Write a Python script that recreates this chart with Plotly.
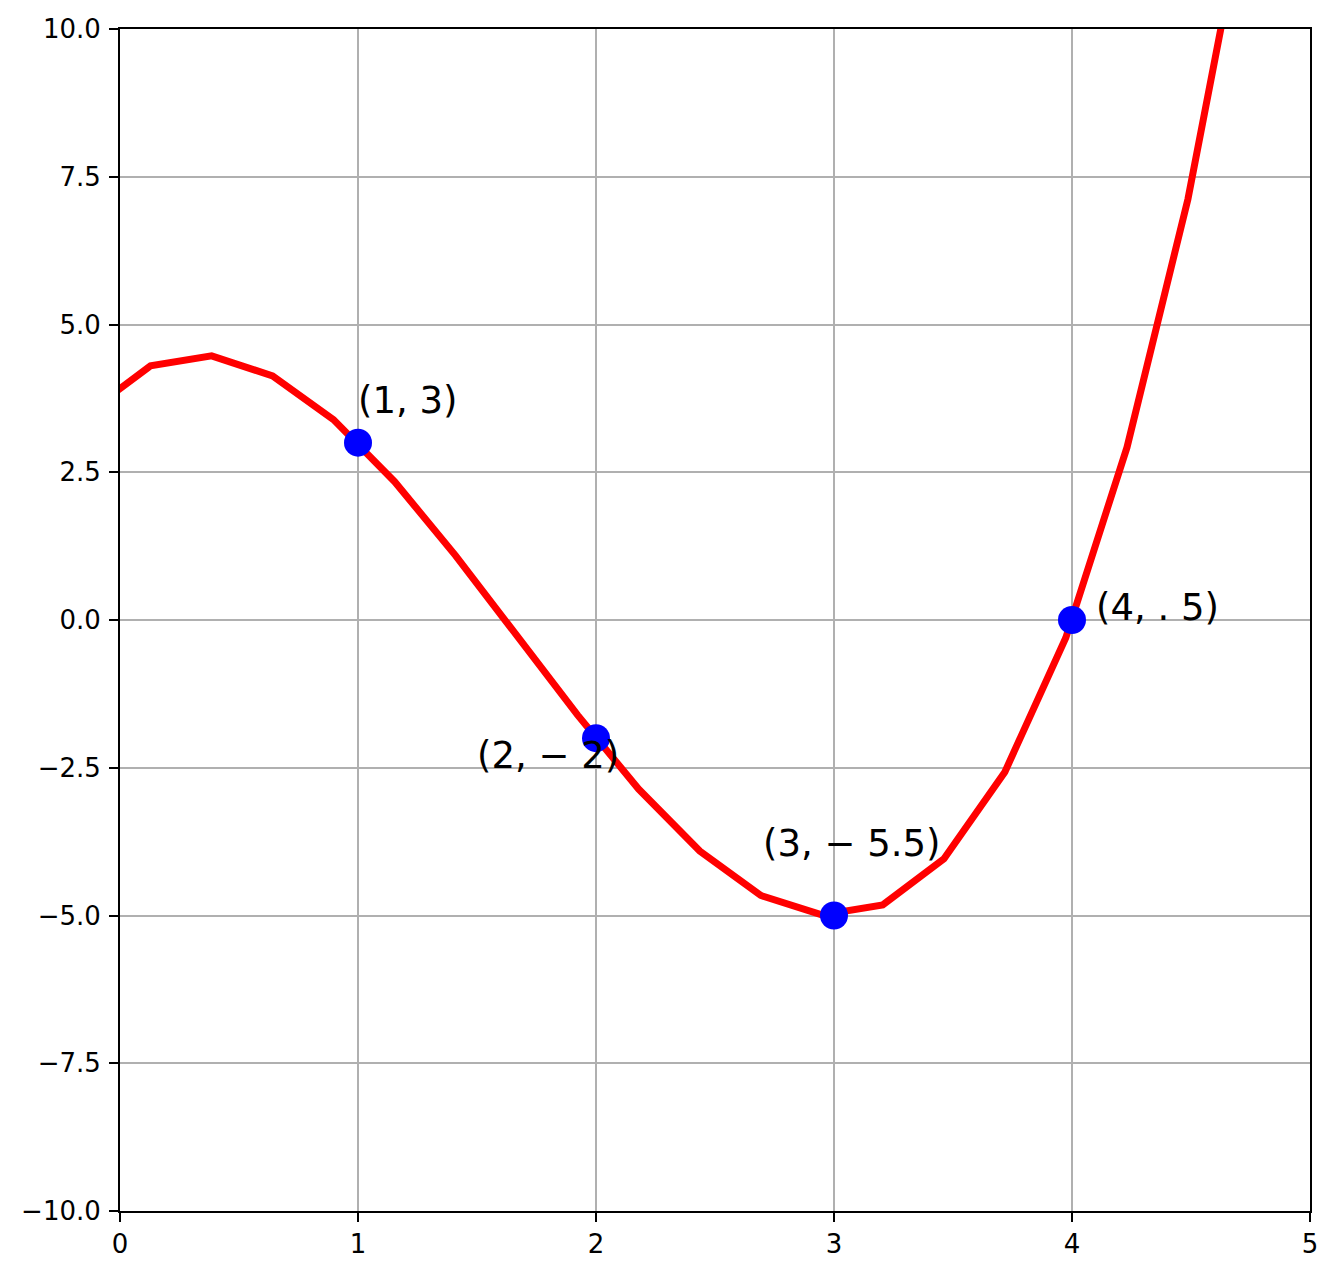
import plotly.graph_objects as go

# curve vertices
curve_x = [-0.128, 0.128, 0.385, 0.641, 0.897, 1.154, 1.410, 1.667, 1.923, 2.179,
           2.436, 2.692, 2.949, 3.205, 3.462, 3.718, 3.974, 4.231, 4.487, 4.744]
curve_y = [3.53, 4.30, 4.47, 4.13, 3.39, 2.34, 1.09, -0.26, -1.61, -2.86,
           -3.91, -4.66, -4.99, -4.82, -4.04, -2.57, -0.30, 2.92, 7.12, 12.48]

# highlighted points
pts_x = [1, 2, 3, 4]
pts_y = [3, -2, -5, 0]

# labels
label_text = ["(1, 3)", "(2, − 2)", "(3, − 5.5)", "(4, . 5)"]
label_x = [1.0, 1.5, 2.7, 4.1]
label_y = [3.5, -2.5, -4.0, 0.0]

# ticks
x_ticks = [0, 1, 2, 3, 4, 5]
x_ticktext = ["0", "1", "2", "3", "4", "5"]
y_ticks = [-10, -7.5, -5, -2.5, 0, 2.5, 5, 7.5, 10]
y_ticktext = ["−10.0", "−7.5", "−5.0", "−2.5", "0.0", "2.5", "5.0", "7.5", "10.0"]

FONT = "DejaVu Sans"

fig = go.Figure()
fig.add_trace(go.Scatter(x=curve_x, y=curve_y, mode="lines",
                         line=dict(color="red", width=7), showlegend=False,
                         hoverinfo="skip"))
fig.add_trace(go.Scatter(x=pts_x, y=pts_y, mode="markers",
                         marker=dict(color="blue", size=28, line=dict(width=0)),
                         showlegend=False, cliponaxis=False))

for t, x, y in zip(label_text, label_x, label_y):
    fig.add_annotation(x=x, y=y, text=t, showarrow=False, xanchor="left",
                       yanchor="bottom", yshift=-11, xshift=-2,
                       font=dict(family=FONT, size=37, color="black"))

axis_common = dict(showline=True, linecolor="black", linewidth=2, mirror=True,
                   ticks="outside", ticklen=9, tickwidth=2, tickcolor="black",
                   showgrid=True, gridcolor="#b0b0b0", gridwidth=1.6,
                   zeroline=False, automargin=False,
                   tickfont=dict(family=FONT, size=26, color="black"))

fig.update_xaxes(range=[0, 5], tickvals=x_ticks, ticktext=x_ticktext, **axis_common)
fig.update_yaxes(range=[-10, 10], tickvals=y_ticks, ticktext=y_ticktext,
                 ticklabelstandoff=3, **axis_common)

fig.update_layout(width=1321, height=1259,
                  margin=dict(l=112, r=19, t=21, b=56),
                  plot_bgcolor="white", paper_bgcolor="white",
                  font=dict(family=FONT))

fig.write_html("out.html")
